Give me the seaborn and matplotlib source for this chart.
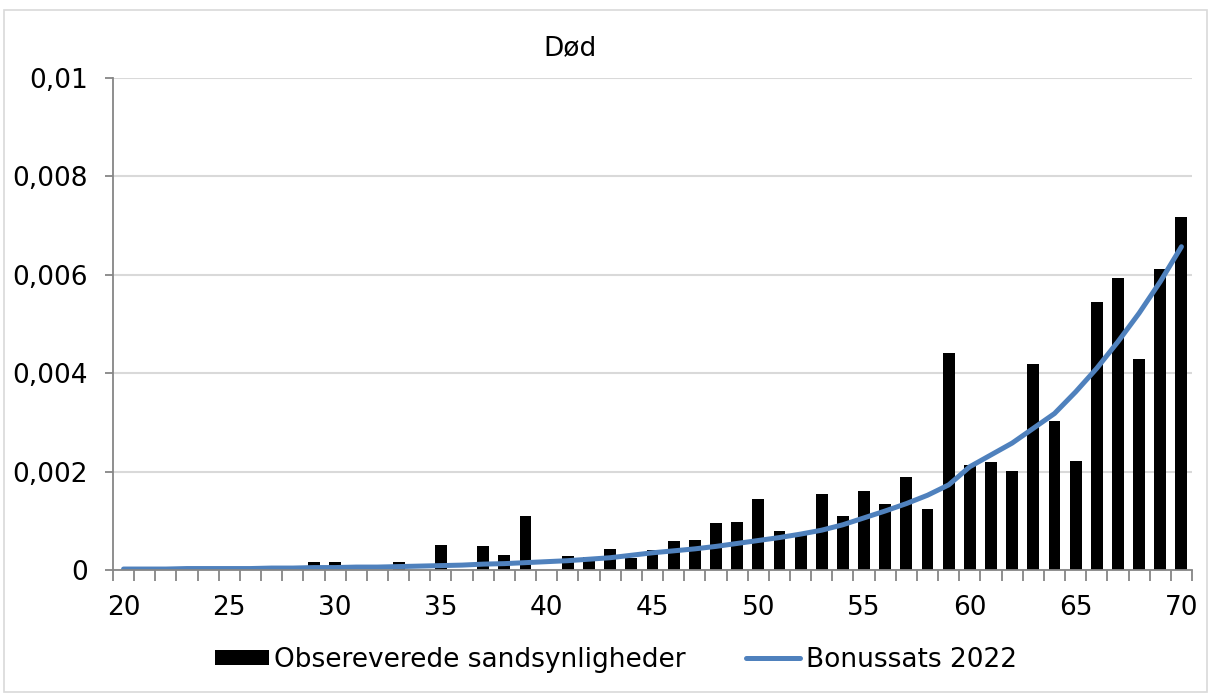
import matplotlib
matplotlib.use("Agg")
import matplotlib.pyplot as plt
from matplotlib.patches import Rectangle
from matplotlib.ticker import FixedLocator, FuncFormatter
import seaborn as sns
import pandas as pd

# alder 20..70
ages = list(range(20, 71))

# observerede sandsynligheder
observed = [
    0, 0, 0, 0, 0, 0, 0, 0, 0, 0.00017,          # 20-29
    0.00016, 0, 0, 0.00017, 0, 0.00051, 0, 0.00049, 0.00031, 0.0011,  # 30-39
    0, 0.00028, 0.00026, 0.00042, 0.00025, 0.00041, 0.00058, 0.00061, 0.00095, 0.00098,  # 40-49
    0.00145, 0.00079, 0.00074, 0.00154, 0.0011, 0.0016, 0.00134, 0.0019, 0.00125, 0.00442,  # 50-59
    0.00213, 0.0022, 0.00201, 0.00419, 0.00303, 0.00222, 0.00544, 0.00593, 0.00429, 0.00611,  # 60-69
    0.00717,  # 70
]

# bonussats 2022
bonus = [
    0.00002, 0.00002, 0.00002, 0.00003, 0.00003, 0.00003, 0.00003, 0.00004, 0.00004, 0.00005,
    0.00005, 0.00006, 0.00006, 0.00007, 0.00008, 0.00009, 0.0001, 0.00012, 0.00013, 0.00015,
    0.00017, 0.00019, 0.00022, 0.00025, 0.0003, 0.00035, 0.00039, 0.00043, 0.00048, 0.00054,
    0.0006, 0.00066, 0.00073, 0.00081, 0.00092, 0.00106, 0.0012, 0.00135, 0.00152, 0.00173,
    0.0021, 0.00234, 0.00258, 0.00288, 0.00318, 0.00362, 0.0041, 0.00464, 0.00522, 0.00586,
    0.00657,
]

yticks = [0, 0.002, 0.004, 0.006, 0.008, 0.01]
xlabels = [20, 25, 30, 35, 40, 45, 50, 55, 60, 65, 70]

df = pd.DataFrame({"alder": ages, "obs": observed, "bonus": bonus})

sns.set_style("white")
plt.rcParams["font.family"] = ["DejaVu Sans"]
plt.rcParams["text.color"] = "black"
plt.rcParams["xtick.color"] = "black"
plt.rcParams["ytick.color"] = "black"

fig = plt.figure(figsize=(12.12, 6.96), dpi=100)
ax = fig.add_axes([0.0932, 0.181, 0.8903, 0.707])

sns.barplot(data=df, x="alder", y="obs", native_scale=True, color="black",
            width=0.56, saturation=1, ax=ax, label="Obsereverede sandsynligheder",
            edgecolor="none")
sns.lineplot(data=df, x="alder", y="bonus", color="#4f81bd", linewidth=3.6,
             ax=ax, label="Bonussats 2022", solid_capstyle="round")

ax.set_xlim(19.5, 70.5)
ax.set_ylim(0, 0.01)
ax.set_xlabel("")
ax.set_ylabel("")

# akser i Excel-stil: kategorigrænser som små streger, tal med komma
ax.yaxis.set_major_locator(FixedLocator(yticks))
ax.yaxis.set_major_formatter(FuncFormatter(lambda v, p: f"{v:g}".replace(".", ",")))
ax.xaxis.set_major_locator(FixedLocator(xlabels))
ax.xaxis.set_minor_locator(FixedLocator([a - 0.5 for a in ages] + [70.5]))
ax.tick_params(axis="x", which="major", bottom=True, length=0, labelsize=19, pad=18,
               labelcolor="black")
ax.tick_params(axis="x", which="minor", bottom=True, length=8, width=1.3,
               color="#868686", direction="out")
ax.tick_params(axis="y", which="major", left=True, length=6, width=1.3, color="#868686",
               labelsize=19, pad=12, labelcolor="black")

ax.grid(axis="y", color="#d9d9d9", linewidth=1.5)
ax.set_axisbelow(True)
for s in ["top", "right"]:
    ax.spines[s].set_visible(False)
for s in ["left", "bottom"]:
    ax.spines[s].set_color("#868686")
    ax.spines[s].set_linewidth(1.3)

ax.get_legend().remove()
h, l = ax.get_legend_handles_labels()
order = [l.index("Obsereverede sandsynligheder"), l.index("Bonussats 2022")]
fig.legend([h[i] for i in order], [l[i] for i in order], loc="center",
           bbox_to_anchor=(0.508, 0.052), ncol=2, frameon=False,
           fontsize=19, handlelength=2.05, handleheight=0.5, handletextpad=0.2,
           columnspacing=2.3)

fig.text(0.47, 0.931, "Død", ha="center", va="center", fontsize=19)

fig.patches.append(Rectangle((0.003, 0.006), 0.993, 0.979, transform=fig.transFigure,
                             fill=False, edgecolor="#d9d9d9", linewidth=1.2))

fig.savefig("out.png", dpi=100, facecolor="white")
